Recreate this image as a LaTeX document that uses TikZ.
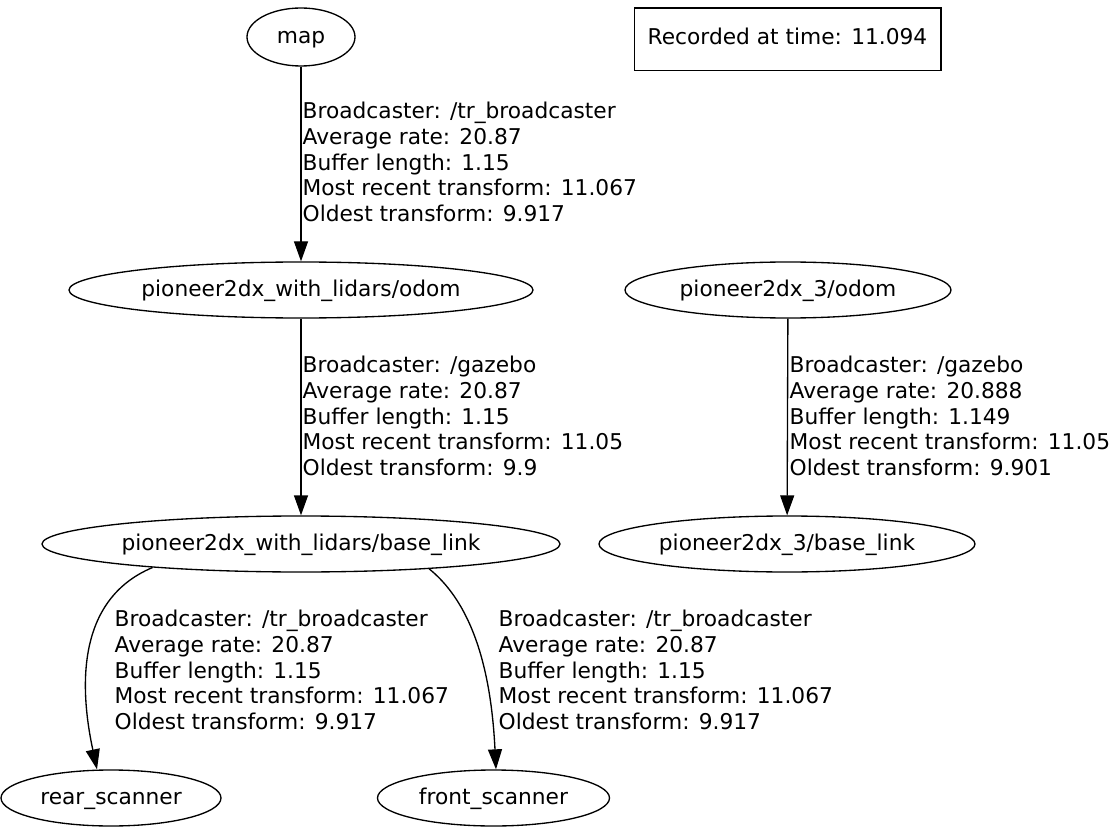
\documentclass[tikz,border=0pt]{standalone}
\usepackage{fontspec}
\setmainfont{DejaVu Sans}
\usepackage{tikz}
\usetikzlibrary{shapes.geometric, arrows.meta}

\tikzset{
  frame/.style={draw, ellipse, inner sep=0pt, minimum height=42pt, text height=12pt, text depth=2.5pt},
  tfedge/.style={-{Triangle[length=15pt, width=10.5pt]}, line width=1pt},
  tfinfo/.style={anchor=west, align=left, inner sep=0pt, font=\fontsize{16.3}{19.3}\selectfont}
}

\begin{document}
\begin{tikzpicture}[x=0.75pt, y=-0.75pt, font=\fontsize{16.3}{19.3}\selectfont, line width=1pt]
    \useasboundingbox (0,0) rectangle (1110,834);
    % frames
    \node[frame, minimum width=81pt, minimum height=43.5pt] (map) at (301,37) {map};
    \node[draw, rectangle, minimum width=230pt, minimum height=47pt, text height=12pt, text depth=5pt] (stamp) at (787.5,39.5) {Recorded at time: 11.094};
    \node[frame, minimum width=348pt] (odom) at (301,290) {pioneer2dx\_with\_lidars/odom};
    \node[frame, minimum width=244.5pt] (odomb) at (788,290) {pioneer2dx\_3/odom};
    \node[frame, minimum width=388.5pt] (base) at (301,544) {pioneer2dx\_with\_lidars/base\_link};
    \node[frame, minimum width=282pt] (baseb) at (787,544) {pioneer2dx\_3/base\_link};
    \node[frame, minimum width=165pt] (rear) at (111,798) {rear\_scanner};
    \node[frame, minimum width=174pt] (front) at (493.5,798) {front\_scanner};

    % transforms
    \draw[tfedge] (map) -- (odom);
    \draw[tfedge] (odom) -- (base);
    \draw[tfedge] (odomb) -- (baseb);
    \draw[tfedge] (base.189) .. controls (75,600) and (80,690) .. (rear.north -| 97,0);
    \draw[tfedge] (base.349) .. controls (480,610) and (492,690) .. (front.north -| 496,0);

    % edge labels
    \node[tfinfo] (infoa) at (302,162) {Broadcaster: /tr\_broadcaster\\Average rate: 20.87\\Buffer length: 1.15\\Most recent transform: 11.067\\Oldest transform: 9.917};
    \node[tfinfo] (infob) at (302,416) {Broadcaster: /gazebo\\Average rate: 20.87\\Buffer length: 1.15\\Most recent transform: 11.05\\Oldest transform: 9.9};
    \node[tfinfo] (infoc) at (789,416) {Broadcaster: /gazebo\\Average rate: 20.888\\Buffer length: 1.149\\Most recent transform: 11.05\\Oldest transform: 9.901};
    \node[tfinfo] (infod) at (114,670) {Broadcaster: /tr\_broadcaster\\Average rate: 20.87\\Buffer length: 1.15\\Most recent transform: 11.067\\Oldest transform: 9.917};
    \node[tfinfo] (infoe) at (498,670) {Broadcaster: /tr\_broadcaster\\Average rate: 20.87\\Buffer length: 1.15\\Most recent transform: 11.067\\Oldest transform: 9.917};
  \end{tikzpicture}
\end{document}
